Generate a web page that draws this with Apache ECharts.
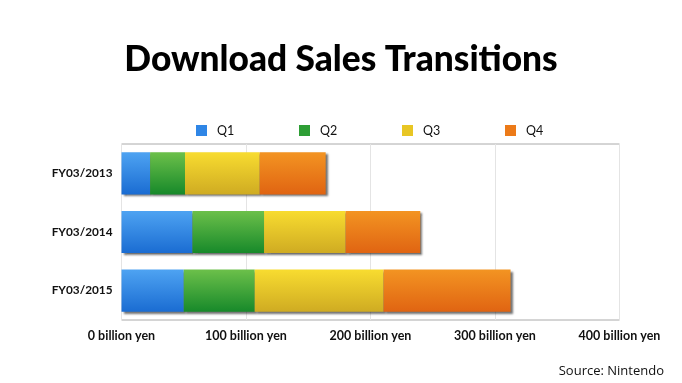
<!DOCTYPE html>
<html><head><meta charset="utf-8">
<script src="https://cdn.jsdelivr.net/npm/echarts@6/dist/echarts.min.js"></script>
<style>html,body{margin:0;padding:0;background:#fff}#c{width:682px;height:383px}</style>
</head><body><div id="c"></div>
<script>
var categories = ['FY03/2013', 'FY03/2014', 'FY03/2015'];
var q1 = [23, 57, 50];
var q2 = [28, 57.5, 57];
var q3 = [60, 65.5, 103.5];
var q4 = [53, 60, 102];
var xTicks = [0, 100, 200, 300, 400];

var font = 'Lato';
function grad(top, bottom) {
  return new echarts.graphic.LinearGradient(0, 0, 0, 1, [{offset: 0, color: top}, {offset: 1, color: bottom}]);
}
var colors = [
  grad('#4ea3f2', '#1a6cd2'),
  grad('#6cc04a', '#17892a'),
  grad('#f8dc30', '#cfab22'),
  grad('#f39422', '#e06412')
];
var legendColors = ['#2f86e6', '#2e9e35', '#e8c624', '#ec7a18'];
var names = ['Q1', 'Q2', 'Q3', 'Q4'];
var vals = [q1, q2, q3, q4];
var legendLeft = [191, 294, 397, 500];

var series = names.map(function (n, i) {
  return {
    name: n, type: 'bar', stack: 'total', data: vals[i],
    barCategoryGap: '28%',
    itemStyle: {
      color: colors[i],
      shadowColor: 'rgba(0,0,0,0.55)', shadowBlur: 2, shadowOffsetX: 2, shadowOffsetY: 2
    },
    emphasis: {disabled: true}
  };
});

var legends = names.map(function (n, i) {
  return {
    data: [{name: n, itemStyle: {color: legendColors[i]}}],
    top: 119, left: legendLeft[i], itemWidth: 11, itemHeight: 11, icon: 'rect',
    textStyle: {fontFamily: font, fontSize: 12.5, color: '#111', padding: [0, 0, 0, 5]}
  };
});

var chart = echarts.init(document.getElementById('c'));
chart.setOption({
  animation: false,
  backgroundColor: '#fff',
  title: {
    text: 'Download Sales Transitions', left: 'center', top: 37,
    textStyle: {fontFamily: font, fontWeight: 900, fontSize: 35.3, color: '#000'}
  },
  legend: legends,
  grid: {left: 121.5, right: 62.5, top: 144, bottom: 63, show: true, borderColor: '#aaa', borderWidth: 1},
  xAxis: {
    type: 'value', min: 0, max: 400, interval: 100,
    axisLine: {show: false}, axisTick: {show: false},
    splitLine: {lineStyle: {color: '#e4e4e4'}},
    axisLabel: {
      margin: 9, fontFamily: font, fontWeight: 'bold', fontSize: 12.5, color: '#111',
      formatter: function (v) { return xTicks.indexOf(v) >= 0 ? v + ' billion yen' : ''; }
    }
  },
  yAxis: {
    type: 'category', data: categories, inverse: true,
    axisLine: {show: false}, axisTick: {show: false},
    axisLabel: {margin: 9, fontFamily: font, fontWeight: 'bold', fontSize: 11.8, color: '#111'}
  },
  graphic: [{
    type: 'text', right: 18, top: 365,
    style: {text: 'Source: Nintendo', font: '13px "Open Sans"', fill: '#111'}
  }],
  series: series
});
</script></body></html>
